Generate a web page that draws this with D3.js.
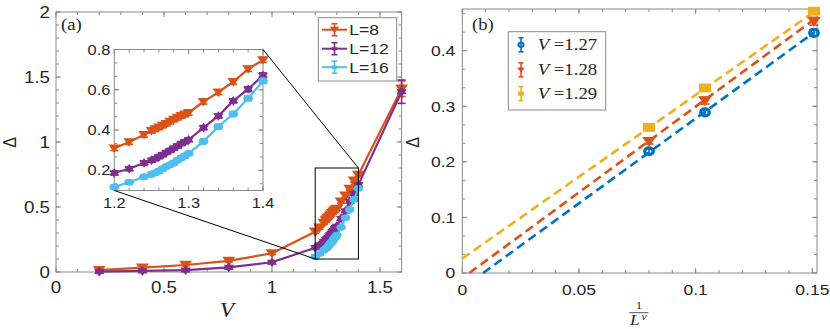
<!DOCTYPE html>
<html>
<head>
<meta charset="utf-8">
<script src="https://cdn.jsdelivr.net/npm/d3@7"></script>
<style>
  body { margin: 0; background: #fff; }
  svg { display: block; }
</style>
</head>
<body>
<svg id="chart"></svg>
<script>
// ---------- data ----------
// panel (a): gap Delta vs interaction V for three sizes
const vCoarse = [0.2, 0.4, 0.6, 0.8, 1.0];
const vFine = [1.2, 1.22, 1.24, 1.25, 1.255, 1.26, 1.265, 1.27, 1.275, 1.28, 1.285, 1.29, 1.295, 1.3, 1.32, 1.34, 1.36, 1.38, 1.4];
const vLast = [1.6];

const gapL8 = [0.015, 0.033, 0.054, 0.085, 0.144,
  0.31, 0.341, 0.377, 0.397, 0.405, 0.414, 0.423, 0.432, 0.442, 0.453, 0.462, 0.471, 0.478, 0.486, 0.541, 0.588, 0.64, 0.703, 0.748,
  1.41];
const gapL12 = [0.003, 0.008, 0.015, 0.036, 0.075,
  0.187, 0.208, 0.237, 0.25, 0.258, 0.268, 0.278, 0.289, 0.299, 0.31, 0.321, 0.333, 0.342, 0.352, 0.412, 0.47, 0.545, 0.603, 0.672,
  1.387];
const gapL16 = [0.117, 0.141, 0.168, 0.18, 0.188, 0.197, 0.208, 0.219, 0.228, 0.237, 0.25, 0.262, 0.272, 0.284, 0.344, 0.417, 0.48, 0.558, 0.644];

const errL8 = [0.006, 0.006, 0.007, 0.008, 0.01,
  0.012, 0.012, 0.012, 0.012, 0.012, 0.012, 0.012, 0.012, 0.012, 0.012, 0.012, 0.012, 0.012, 0.012, 0.012, 0.012, 0.012, 0.012, 0.012,
  0.06];
const errL12 = [0.004, 0.004, 0.005, 0.006, 0.008,
  0.01, 0.01, 0.01, 0.01, 0.01, 0.01, 0.01, 0.01, 0.01, 0.01, 0.01, 0.01, 0.01, 0.01, 0.01, 0.01, 0.01, 0.012, 0.012,
  0.09];
const errL16 = [0.01, 0.01, 0.01, 0.01, 0.01, 0.01, 0.01, 0.01, 0.01, 0.01, 0.01, 0.01, 0.01, 0.01, 0.01, 0.012, 0.012, 0.012, 0.012];

const sizeLabels = ['L=8', 'L=12', 'L=16'];

// panel (b): Delta vs 1/L^nu at three V values (L = 16, 12, 8)
const invL = [0.08, 0.104, 0.1507];
const gapV127 = [0.219, 0.289, 0.432];
const gapV128 = [0.237, 0.31, 0.453];
const gapV129 = [0.262, 0.333, 0.471];
const errV127 = [0.004, 0.005, 0.006];
const errV128 = [0.005, 0.006, 0.007];
const errV129 = [0.004, 0.005, 0.005];
const fitSlope = [3.052, 3.087, 2.944];
const fitIntercept = [-0.0272, -0.0093, 0.026];
const vLabels = ['1.27', '1.28', '1.29'];

// ---------- look ----------
const W = 830, H = 329;
const SX = 1.17;   // the figure is stretched sideways a little
const sans = '"Liberation Sans", Arial, Helvetica, sans-serif';
const serif = '"Liberation Serif", "Times New Roman", serif';
const ink = '#262626', frameCol = '#8a8a8a';
const cOrange = '#D95319', cPurple = '#7E2F8E', cCyan = '#4DBEEE';
const cBlue = '#0072BD', cYellow = '#EDB120';

const svg = d3.select('#chart').attr('width', W).attr('height', H);
svg.append('rect').attr('width', W).attr('height', H).attr('fill', '#fff');

function stretchText(g, x, y, str, o = {}) {
  return g.append('text')
    .attr('transform', `translate(${x},${y}) scale(${SX},1)` + (o.rotate ? ` rotate(${o.rotate})` : ''))
    .attr('text-anchor', o.anchor || 'start')
    .attr('font-family', o.family || sans)
    .attr('font-size', o.size || 16)
    .attr('font-style', o.italic ? 'italic' : null)
    .attr('fill', ink)
    .text(str);
}

function seg(g, x1, y1, x2, y2, color, w) {
  return g.append('line').attr('x1', x1).attr('y1', y1).attr('x2', x2).attr('y2', y2)
    .attr('stroke', color).attr('stroke-width', w || 1);
}

function frameAxes(g, x, y, t) {
  const [x0, x1] = x.range(), [y0, y1] = y.range();
  g.append('rect').attr('x', x0).attr('y', y1).attr('width', x1 - x0).attr('height', y0 - y1)
    .attr('fill', t.fill || 'none').attr('stroke', frameCol).attr('stroke-width', 1);
  const tick = (v, len, isX) => {
    if (isX) { seg(g, x(v), y0, x(v), y0 - len, frameCol); seg(g, x(v), y1, x(v), y1 + len, frameCol); }
    else { seg(g, x0, y(v), x0 + len, y(v), frameCol); seg(g, x1, y(v), x1 - len, y(v), frameCol); }
  };
  t.xMinor.forEach(v => tick(v, 3, true));
  t.yMinor.forEach(v => tick(v, 3, false));
  t.xMajor.forEach(v => tick(v, 5, true));
  t.yMajor.forEach(v => tick(v, 5, false));
  t.xMajor.forEach(v => stretchText(g, x(v), y0 + t.xDy, String(v), { anchor: 'middle', size: t.size }));
  t.yMajor.forEach(v => stretchText(g, x0 - t.yDx, y(v) + t.size * 0.36, String(v), { anchor: 'end', size: t.size }));
}

function steps(a, b, n) { return d3.range(0, n + 1).map(i => +(a + (b - a) * i / n).toFixed(6)); }

// marker shapes, drawn centred on (0,0)
function marker(g, type, cx, cy, color, s) {
  const m = g.append('g').attr('transform', `translate(${cx},${cy}) scale(${SX},1)`);
  if (type === 'tri') {
    m.append('path').attr('d', `M${-s},${-s * 0.75}L${s},${-s * 0.75}L0,${s * 0.95}Z`).attr('fill', color);
  } else if (type === 'star') {
    const pts = d3.range(12).map(i => {
      const a = Math.PI / 6 * i - Math.PI / 2, r = i % 2 ? s * 0.6 : s;
      return [r * Math.cos(a), r * Math.sin(a)];
    });
    m.append('path').attr('d', 'M' + pts.join('L') + 'Z').attr('fill', color);
  } else if (type === 'dot') {
    m.append('ellipse').attr('rx', s).attr('ry', s * 0.85).attr('fill', color);
  } else if (type === 'ring') {
    m.append('circle').attr('r', s).attr('fill', 'none').attr('stroke', color).attr('stroke-width', s * 0.8);
  } else if (type === 'sq') {
    m.append('rect').attr('x', -s).attr('y', -s * 0.85).attr('width', 2 * s).attr('height', 1.7 * s).attr('fill', color);
  }
}

function errBar(g, cx, yTop, yBot, color, cap) {
  seg(g, cx, yTop, cx, yBot, color, 1.6);
  seg(g, cx - cap, yTop, cx + cap, yTop, color, 1.6);
  seg(g, cx - cap, yBot, cx + cap, yBot, color, 1.6);
}

function series(g, x, y, xs, ys, es, color, type, s, cap) {
  const pts = xs.map((v, i) => [v, ys[i], es[i]]);
  g.append('path').datum(pts)
    .attr('d', d3.line().x(d => x(d[0])).y(d => y(d[1])))
    .attr('fill', 'none').attr('stroke', color).attr('stroke-width', 2.2).attr('stroke-linejoin', 'round');
  pts.forEach(d => errBar(g, x(d[0]), y(d[1] + d[2]), y(d[1] - d[2]), color, cap));
  pts.forEach(d => marker(g, type, x(d[0]), y(d[1]), color, s));
}

// ---------- panel (a) ----------
const ga = svg.append('g');
const xa = d3.scaleLinear().domain([0, 1.6]).range([56, 401.6]);
const ya = d3.scaleLinear().domain([0, 2]).range([272, 12]);
frameAxes(ga, xa, ya, {
  xMajor: [0, 0.5, 1, 1.5], xMinor: steps(0, 1.6, 16),
  yMajor: [0, 0.5, 1, 1.5, 2], yMinor: steps(0, 2, 20),
  size: 16, xDy: 21, yDx: 6
});

const vL8 = [...vCoarse, ...vFine, ...vLast];
const vL12 = [...vCoarse, ...vFine, ...vLast];
const vL16 = [...vFine];
series(ga, xa, ya, vL8, gapL8, errL8, cOrange, 'tri', 5.5, 4);
series(ga, xa, ya, vL12, gapL12, errL12, cPurple, 'star', 5, 4);
series(ga, xa, ya, vL16, gapL16, errL16, cCyan, 'dot', 4, 4);

// zoom box in the main axes
const zoomX = [1.2, 1.4], zoomY = [0.1, 0.8];
ga.append('rect').attr('x', xa(zoomX[0])).attr('y', ya(zoomY[1]))
  .attr('width', xa(zoomX[1]) - xa(zoomX[0])).attr('height', ya(zoomY[0]) - ya(zoomY[1]))
  .attr('fill', 'none').attr('stroke', '#000').attr('stroke-width', 1);

// inset
const gi = svg.append('g');
const xi = d3.scaleLinear().domain(zoomX).range([114.3, 263]);
const yi = d3.scaleLinear().domain(zoomY).range([190.5, 49.5]);
frameAxes(gi, xi, yi, {
  fill: '#fff',
  xMajor: [1.2, 1.3, 1.4], xMinor: steps(1.2, 1.4, 10),
  yMajor: [0.2, 0.4, 0.6, 0.8], yMinor: steps(0.0667, 0.8, 11).filter(v => v > 0.1),
  size: 14, xDy: 17.5, yDx: 4
});
series(gi, xi, yi, vFine, gapL8.slice(5, 24), errL8.slice(5, 24), cOrange, 'tri', 5, 4);
series(gi, xi, yi, vFine, gapL12.slice(5, 24), errL12.slice(5, 24), cPurple, 'star', 4.8, 4);
series(gi, xi, yi, vFine, gapL16, errL16, cCyan, 'dot', 4.2, 4);

// connector lines between zoom box and inset
seg(svg, xa(zoomX[1]), ya(zoomY[1]), xi(zoomX[1]), yi(zoomY[1]), '#000', 1);
seg(svg, xa(zoomX[0]), ya(zoomY[0]), xi(zoomX[0]), yi(zoomY[0]), '#000', 1);

// legend (a)
const la = svg.append('g');
la.append('rect').attr('x', 318.3).attr('y', 17.7).attr('width', 78.4).attr('height', 63.3)
  .attr('fill', '#fff').attr('stroke', frameCol);
const legA = [[cOrange, 'tri', 4], [cPurple, 'star', 3], [cCyan, 'dot', 2.5]];
[29.7, 48.7, 67.2].forEach((yy, i) => {
  const [c, t, s] = legA[i];
  seg(la, 322, yy, 347, yy, c, 2);
  errBar(la, 334.5, yy - 6, yy + 6, c, 3);
  marker(la, t, 334.5, yy, c, s);
  stretchText(la, 349.3, yy + 5.4, sizeLabels[i], { size: 15 });
});

stretchText(svg, 61, 30, '(a)', { family: serif, size: 16 });
stretchText(svg, 227, 317, 'V', { family: serif, size: 20, italic: true, anchor: 'middle' });
stretchText(svg, 9.5, 142.5, 'Δ', { size: 16, anchor: 'middle', rotate: -90 }).attr('dy', '0.35em');

// ---------- panel (b) ----------
const gb = svg.append('g');
const xb = d3.scaleLinear().domain([0, 0.152]).range([462.3, 817]);
const yb = d3.scaleLinear().domain([0, 0.475]).range([273, 9]);
frameAxes(gb, xb, yb, {
  xMajor: [0, 0.05, 0.1, 0.15], xMinor: steps(0, 0.15, 15),
  yMajor: [0, 0.1, 0.2, 0.3, 0.4], yMinor: steps(0, 0.4667, 14),
  size: 15, xDy: 22, yDx: 7
});

const bSeries = [
  [gapV127, errV127, cBlue, 'ring', 3.6],
  [gapV128, errV128, cOrange, 'tri', 5.8],
  [gapV129, errV129, cYellow, 'sq', 5.2]
];
// dashed linear fits
bSeries.forEach((sr, k) => {
  const m = fitSlope[k], b = fitIntercept[k];
  const xStart = Math.max(0, -b / m), xEnd = invL[2];
  gb.append('line')
    .attr('x1', xb(xStart)).attr('y1', yb(m * xStart + b))
    .attr('x2', xb(xEnd)).attr('y2', yb(m * xEnd + b))
    .attr('stroke', sr[2]).attr('stroke-width', 2.6).attr('stroke-dasharray', '9,5');
});
bSeries.forEach(([ys, es, c, t, s]) => {
  invL.forEach((v, i) => {
    errBar(gb, xb(v), yb(ys[i] + es[i]), yb(ys[i] - es[i]), c, 4.5);
    marker(gb, t, xb(v), yb(ys[i]), c, s);
  });
});

// legend (b)
const lb = svg.append('g');
lb.append('rect').attr('x', 508.3).attr('y', 31.7).attr('width', 97.4).attr('height', 78.3)
  .attr('fill', '#fff').attr('stroke', frameCol);
const legB = [[cBlue, 'ring', 2.2], [cOrange, 'tri', 3.2], [cYellow, 'sq', 2.5]];
[44.8, 69.8, 93.6].forEach((yy, i) => {
  const [c, t, s] = legB[i];
  errBar(lb, 521, yy - 7, yy + 7, c, 2.5);
  marker(lb, t, 521, yy, c, s);
  const tx = stretchText(lb, 537.7, yy + 5.3, '', { family: serif, size: 16 });
  tx.append('tspan').attr('font-style', 'italic').text('V');
  tx.append('tspan').text(' =' + vLabels[i]);
});

stretchText(svg, 472, 30, '(b)', { family: serif, size: 16 });
stretchText(svg, 412, 142.5, 'Δ', { size: 16, anchor: 'middle', rotate: -90 }).attr('dy', '0.35em');

// x label 1 / L^nu
stretchText(svg, 639, 309.3, '1', { family: serif, size: 11, anchor: 'middle' });
seg(svg, 629.3, 312.7, 648.3, 312.7, ink, 0.8);
stretchText(svg, 630, 325.3, 'L', { family: serif, size: 15, italic: true });
stretchText(svg, 641.5, 320, 'ν', { family: serif, size: 10, italic: true });
</script>
</body>
</html>
